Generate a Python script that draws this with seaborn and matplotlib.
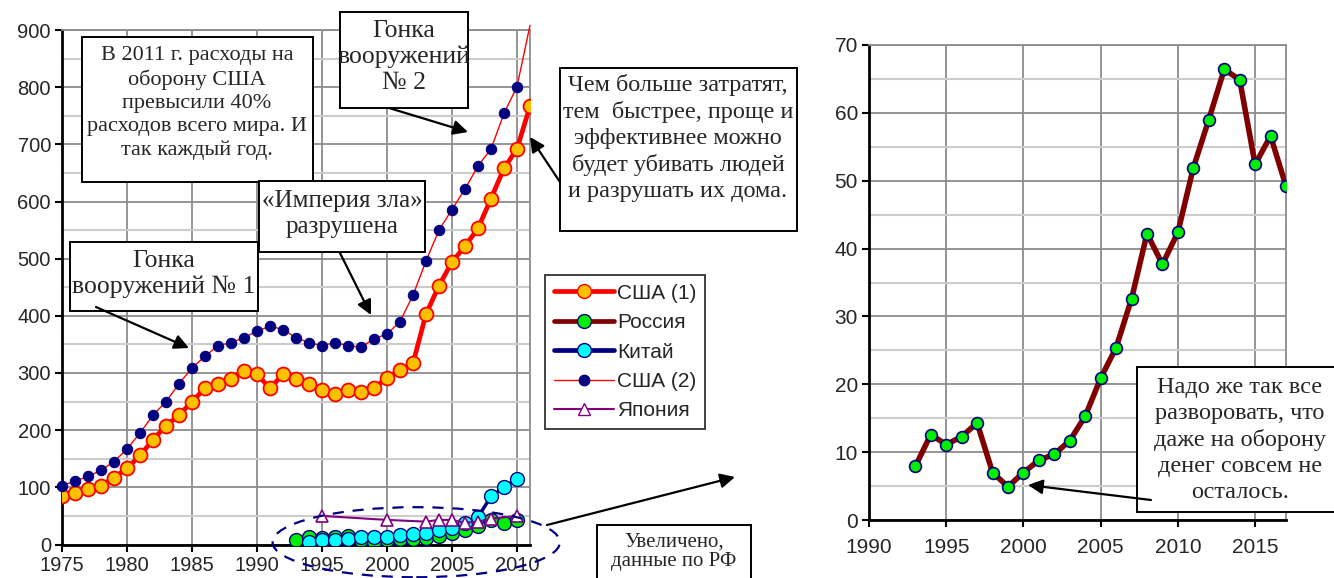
import matplotlib
matplotlib.use("Agg")
import matplotlib.pyplot as plt
from matplotlib.patches import Rectangle, Ellipse, FancyArrowPatch
from matplotlib.lines import Line2D
from matplotlib.ticker import MultipleLocator
import seaborn as sns

# Военные расходы, млрд $
usa1_years = list(range(1975, 2012))
usa1 = [85, 90, 97, 103, 117, 133, 156, 183, 208, 226,
        250, 273, 281, 290, 304, 298, 273, 298, 290, 280,
        270, 264, 270, 267, 273, 292, 305, 317, 403, 453,
        494, 522, 553, 605, 658, 692, 767]

usa2_years = list(range(1975, 2012))
usa2 = [103, 111, 119, 130, 145, 167, 195, 226, 250, 281,
        309, 329, 348, 353, 362, 373, 382, 376, 362, 353,
        348, 353, 348, 345, 360, 368, 390, 436, 496, 550,
        586, 622, 662, 692, 754, 801, 908]

russia_years = list(range(1993, 2018))
russia = [7.9, 12.6, 11.1, 12.3, 14.3, 7.0, 4.9, 7.0, 8.8, 9.7,
          11.7, 15.3, 20.9, 25.4, 32.6, 42.2, 37.7, 42.4, 51.9, 59.0,
          66.4, 64.9, 52.4, 56.6, 49.2]

china_years = list(range(1994, 2011))
china = [5, 8, 8, 10, 13, 13, 13, 17, 19, 20, 26, 29, 37, 48, 84, 100, 115]

japan_years = [1995, 2000, 2003, 2004, 2005, 2006, 2007, 2008, 2010]
japan = [50, 43, 40, 43, 43, 38, 40, 45, 50]

legend_labels = ["США (1)", "Россия", "Китай", "США (2)", "Япония"]

W, H = 1334, 578
sns.set_style("white")
plt.rcParams['font.family'] = ['Liberation Sans', 'DejaVu Sans']

fig = plt.figure(figsize=(W / 100, H / 100), dpi=100)
fig.patch.set_facecolor("white")


def fx(x):
    return x / W


def fy(y):
    return 1 - y / H


def style_axes(ax, fs, xpad=3):
    ax.grid(which="major", color="#8c8c8c", lw=1.3)
    ax.grid(which="minor", axis="y", color="#cccccc", lw=1.5)
    ax.set_axisbelow(True)
    for s in ["left", "bottom"]:
        ax.spines[s].set_color("black")
        ax.spines[s].set_linewidth(2)
    for s in ["top", "right"]:
        ax.spines[s].set_color("#8c8c8c")
        ax.spines[s].set_linewidth(1.3)
    ax.tick_params(axis="both", which="major", direction="out", length=5, width=1.5,
                   color="black", labelsize=fs, left=True, bottom=True, pad=3)
    ax.tick_params(axis="x", pad=xpad)
    ax.tick_params(which="minor", length=0)
    ax.set_xlabel("")
    ax.set_ylabel("")


# ---- левый график ----
ax1 = fig.add_axes([fx(62), fy(544.5), fx(468), 514.5 / H])

sns.lineplot(x=usa1_years, y=usa1, ax=ax1, color="red", lw=3.4, marker="o", ms=10,
             mfc="#FFC000", mec="red", mew=1.3, zorder=3)
sns.lineplot(x=russia_years[:18], y=russia[:18], ax=ax1, color="#800000", lw=2.5,
             marker="o", ms=10, mfc="#00ee00", mec="#000080", mew=1.0, zorder=3)
sns.lineplot(x=china_years, y=china, ax=ax1, color="#000080", lw=2.5, marker="o", ms=10,
             mfc="#00ffff", mec="#000080", mew=1.0, zorder=3)
sns.lineplot(x=usa2_years, y=usa2, ax=ax1, color="red", lw=1.0, marker="o", ms=7.5,
             mfc="#000080", mec="#000080", markevery=list(range(36)), zorder=3,
             clip_on=False)
sns.lineplot(x=japan_years, y=japan, ax=ax1, color="#800080", lw=1.5, marker="^", ms=8.5,
             mfc="white", mec="#800080", mew=1.2, zorder=4)

ax1.set_xlim(1975, 2011)
ax1.set_ylim(0, 900)
ax1.set_xticks(range(1975, 2011, 5))
ax1.yaxis.set_major_locator(MultipleLocator(100))
ax1.yaxis.set_minor_locator(MultipleLocator(50))
style_axes(ax1, 14.5)

ax1.add_patch(Ellipse((2002.25, 4), 22.1, 122.6, fill=False, ec="#000080",
                      ls=(0, (5, 4)), lw=1.6, clip_on=False, zorder=5))

# ---- правый график ----
ax2 = fig.add_axes([fx(869), fy(520), fx(417), 475 / H])
sns.lineplot(x=russia_years, y=russia, ax=ax2, color="#800000", lw=4.0, marker="o", ms=8.5,
             mfc="#00ee00", mec="#000080", mew=1.2, zorder=3)
ax2.set_xlim(1990, 2017)
ax2.set_ylim(0, 70)
ax2.set_xticks(range(1990, 2016, 5))
ax2.yaxis.set_major_locator(MultipleLocator(10))
ax2.yaxis.set_minor_locator(MultipleLocator(5))
style_axes(ax2, 15, xpad=8)

# ---- легенда ----
handles = [
    Line2D([], [], color="red", lw=3.4, marker="o", ms=10, mfc="#FFC000", mec="red"),
    Line2D([], [], color="#800000", lw=3.4, marker="o", ms=10, mfc="#00ee00", mec="#000080"),
    Line2D([], [], color="#000080", lw=3.4, marker="o", ms=10, mfc="#00ffff", mec="#000080"),
    Line2D([], [], color="red", lw=1.0, marker="o", ms=7.5, mfc="#000080", mec="#000080"),
    Line2D([], [], color="#800080", lw=1.5, marker="^", ms=8.5, mfc="white", mec="#800080"),
]
leg = fig.legend(handles, legend_labels, loc="upper left", bbox_to_anchor=(fx(545), fy(275)),
                 fontsize=15, frameon=True, fancybox=False, edgecolor="black",
                 handlelength=2.9, handletextpad=0.15, labelspacing=0.5, borderpad=0.42,
                 borderaxespad=0)
leg.get_frame().set_linewidth(1.3)

# ---- подписи в рамках ----
serif = ["Liberation Serif", "DejaVu Serif"]


def box(x0, y0, x1, y1, text, tx, ty, fs=17.5, ls=1.3):
    fig.patches.append(Rectangle((fx(x0), fy(y1)), fx(x1 - x0), (y1 - y0) / H,
                                 transform=fig.transFigure, fc="white", ec="black",
                                 lw=1.4, zorder=5))
    fig.text(fx(tx), fy(ty), text, ha="center", va="center", family=serif,
             fontsize=fs, linespacing=ls, zorder=6)


def arrow(x0, y0, x1, y1):
    fig.add_artist(FancyArrowPatch((fx(x0), fy(y0)), (fx(x1), fy(y1)),
                                   transform=fig.transFigure, arrowstyle="-|>",
                                   mutation_scale=22, color="black", lw=1.6,
                                   shrinkA=0, shrinkB=0, zorder=7))


box(82, 37, 313, 182, "В 2011 г. расходы на\nоборону США\nпревысили 40%\n"
    "расходов всего мира. И\nтак каждый год.", 197, 103, fs=16)
box(340, 12, 468, 108, "Гонка\nвооружений\n№ 2", 404, 57, fs=18.5, ls=1.2)
box(259, 181, 425, 252, "«Империя зла»\nразрушена", 342, 214, fs=18, ls=1.2)
box(70, 242, 258, 311, "Гонка\nвооружений № 1", 164, 274, fs=18.5, ls=1.2)
box(560, 68, 797, 231, "Чем больше затратят,\nтем  быстрее, проще и\nэффективнее можно\n"
    "будет убивать людей\nи разрушать их дома.", 678, 138)
box(597, 525, 751, 595, "Увеличено,\nданные по РФ", 674, 552, fs=15, ls=1.05)
box(1137, 367, 1345, 512, "Надо же так все\nразворовать, что\nдаже на оборону\n"
    "денег совсем не\nосталось.", 1240, 440)

arrow(389, 108, 468, 132)
arrow(560, 182, 530, 137)
arrow(340, 253, 371, 315)
arrow(96, 307, 189, 348)
arrow(547, 525, 735, 477)
arrow(1151, 500, 1028, 485)

fig.savefig("out.png", dpi=100, facecolor="white")
